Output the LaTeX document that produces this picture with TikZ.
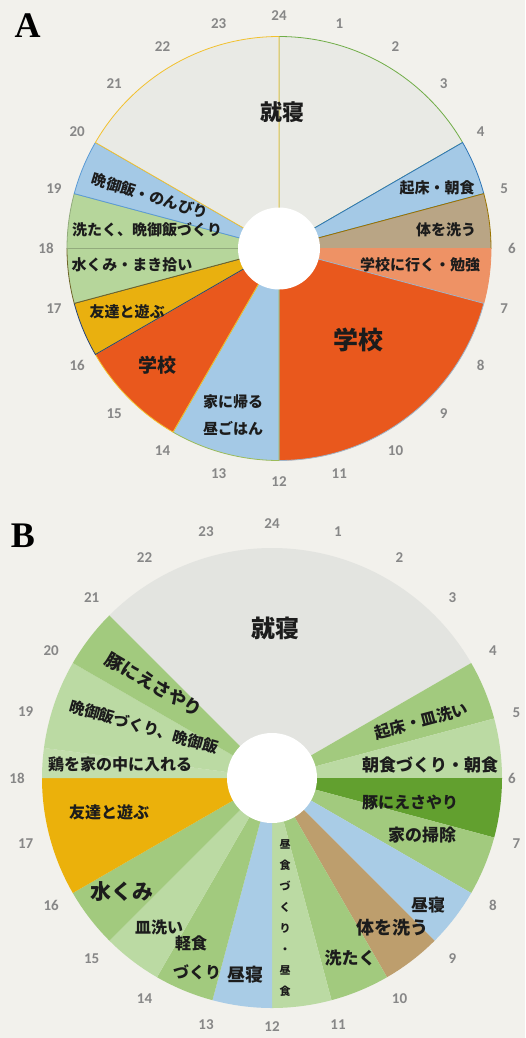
\documentclass[tikz,border=0pt]{standalone}
\usepackage{fontspec}
\newfontfamily\jp{Noto Sans CJK JP}
\newfontfamily\numf{Carlito}
\newfontfamily\letf{Liberation Serif}
\usetikzlibrary{calc}
\newcommand{\fs}[1]{\fontsize{#1}{#1}\selectfont}
\newcommand{\wedgeseg}[5]{%
  \path[#5] (#1) -- ($(#1)+({15*(#2)-90}:#4)$) arc[start angle={15*(#2)-90}, end angle={15*(#3)-90}, radius=#4] -- cycle;}
\definecolor{bg}{RGB}{242,241,236}
\definecolor{ink}{RGB}{28,28,28}
\definecolor{hrc}{RGB}{135,135,135}
% chart A
\definecolor{sleepA}{RGB}{233,234,229}
\definecolor{blueA}{RGB}{164,201,230}
\definecolor{tanA}{RGB}{185,165,133}
\definecolor{lorA}{RGB}{238,146,101}
\definecolor{orA}{RGB}{233,88,29}
\definecolor{goldA}{RGB}{233,176,15}
\definecolor{gA}{RGB}{182,214,155}
\definecolor{olYel}{RGB}{242,193,46}
\definecolor{olGrn}{RGB}{112,173,71}
\definecolor{olBlu}{RGB}{46,117,182}
\definecolor{olOlv}{RGB}{153,115,0}
\definecolor{olGry}{RGB}{160,180,200}
\definecolor{olLgr}{RGB}{155,187,89}
\definecolor{olNav}{RGB}{38,68,120}
\definecolor{olBrn}{RGB}{110,100,40}
\definecolor{olLbl}{RGB}{91,155,213}
% chart B
\definecolor{sleepB}{RGB}{227,228,224}
\definecolor{gB}{RGB}{162,202,126}
\definecolor{gBl}{RGB}{187,218,163}
\definecolor{gBx}{RGB}{194,222,172}
\definecolor{gBd}{RGB}{98,160,47}
\definecolor{blueB}{RGB}{169,204,230}
\definecolor{tanB}{RGB}{189,158,109}
\definecolor{goldB}{RGB}{235,177,11}
\tikzset{
  jt/.style={inner sep=0pt, text=ink, font=\jp\bfseries\fs{#1}},
  hr/.style={inner sep=0pt, text=hrc, font=\numf\bfseries\fs{15}},
  ol/.style={line width=0.8pt, line join=round}
}
\begin{document}
\begin{tikzpicture}[x=1pt,y=-1pt]
\fill[bg] (0,0) rectangle (525,1038);
\useasboundingbox (0,0) rectangle (525,1038);
\coordinate (cA) at (279,248.5);
\coordinate (cB) at (272,778);

% ---------------- Chart A ----------------
\wedgeseg{cA}{0}{4}{212}{fill=sleepA, draw=olGrn, ol}
\wedgeseg{cA}{4}{5}{212}{fill=blueA, draw=olBlu, ol}
\wedgeseg{cA}{5}{6}{212}{fill=tanA, draw=olOlv, ol}
\wedgeseg{cA}{6}{7}{212}{fill=lorA, draw=lorA, ol}
\wedgeseg{cA}{7}{12}{212}{fill=orA, draw=olGry, ol}
\wedgeseg{cA}{12}{14}{212}{fill=blueA, draw=olLgr, ol}
\wedgeseg{cA}{14}{16}{212}{fill=orA, draw=olYel, ol}
\wedgeseg{cA}{16}{17}{212}{fill=goldA, draw=olNav, ol}
\wedgeseg{cA}{17}{18}{212}{fill=gA, draw=olBrn, ol}
\wedgeseg{cA}{18}{19}{212}{fill=gA, draw=gA!80!black, ol}
\wedgeseg{cA}{19}{20}{212}{fill=blueA, draw=olLbl, ol}
\wedgeseg{cA}{20}{24}{212}{fill=sleepA, draw=olYel, ol}
\fill[white] (cA) circle[radius=41];

\foreach \h in {1,...,24}
  \node[hr] (A\h) at ($(cA)+({15*\h-90}:233)$) {\h};

\node[inner sep=0pt, font=\letf\bfseries\fs{36}] (labA) at (27.5,26) {A};

\node[jt=22] (a1) at (282,112) {就寝};
\node[jt=15] (a2) at (437,188) {起床・朝食};
\node[jt=15] (a3) at (446,230) {体を洗う};
\node[jt=15] (a4) at (420,265) {学校に行く・勉強};
\node[jt=25] (a5) at (358,340) {学校};
\node[jt=15] (a6) at (233,402) {家に帰る};
\node[jt=15] (a7) at (233,428) {昼ごはん};
\node[jt=19] (a8) at (157,365) {学校};
\node[jt=15] (a9) at (127,312) {友達と遊ぶ};
\node[jt=15] (a10) at (132,265) {水くみ・まき拾い};
\node[jt=15] (a11) at (147,230) {洗たく、晩御飯づくり};
\node[jt=15, rotate=-17] (a12) at (150,196) {晩御飯・のんびり};

% ---------------- Chart B ----------------
\wedgeseg{cB}{0}{4}{230}{fill=sleepB}
\wedgeseg{cB}{21}{24}{230}{fill=sleepB}
\wedgeseg{cB}{4}{5}{230}{fill=gB}
\wedgeseg{cB}{5}{6}{230}{fill=gBl}
\wedgeseg{cB}{6}{7}{230}{fill=gBd}
\wedgeseg{cB}{7}{8}{230}{fill=gB}
\wedgeseg{cB}{8}{9}{230}{fill=blueB}
\wedgeseg{cB}{9}{10}{230}{fill=tanB}
\wedgeseg{cB}{10}{11}{230}{fill=gB}
\wedgeseg{cB}{11}{12}{230}{fill=gBl}
\wedgeseg{cB}{12}{13}{230}{fill=blueB}
\wedgeseg{cB}{13}{14}{230}{fill=gB}
\wedgeseg{cB}{14}{15}{230}{fill=gBl}
\wedgeseg{cB}{15}{16}{230}{fill=gB}
\wedgeseg{cB}{16}{18}{230}{fill=goldB}
\wedgeseg{cB}{18}{18.5}{230}{fill=gBx}
\wedgeseg{cB}{18.5}{20}{230}{fill=gBl}
\wedgeseg{cB}{20}{21}{230}{fill=gB}
\fill[white] (cB) circle[radius=45];

\foreach \h/\r in {1/255,2/255,3/255,4/255,5/253,6/240,7/253,8/255,9/255,10/255,11/255,12/249,
                   13/255,14/255,15/255,16/255,17/255,18/255,19/255,20/255,21/255,22/255,23/255,24/254}
  \node[hr] (B\h) at ($(cB)+({15*\h-90}:\r)$) {\h};

\node[inner sep=0pt, font=\letf\bfseries\fs{36}] (labB) at (23,536) {B};

\node[jt=24] (b1) at (275,628) {就寝};
\node[jt=16, rotate=15] (b2) at (421,721) {起床・皿洗い};
\node[jt=17] (b3) at (430,765) {朝食づくり・朝食};
\node[jt=16] (b4) at (410,802) {豚にえさやり};
\node[jt=17] (b5) at (422,835) {家の掃除};
\node[jt=17] (b6) at (428,905) {昼寝};
\node[jt=18] (b7) at (392,928) {体を洗う};
\node[jt=17] (b8) at (350,958) {洗たく};
\node[jt=11, align=center, font=\jp\bfseries\fontsize{11}{21}\selectfont] (b9) at (285,918) {昼\\食\\づ\\く\\り\\・\\昼\\食};
\node[jt=18] (b10) at (245,975) {昼寝};
\node[jt=16] (b11) at (197,972) {づくり};
\node[jt=16] (b12) at (191,943) {軽食};
\node[jt=16] (b13) at (159,927) {皿洗い};
\node[jt=21] (b14) at (122,892) {水くみ};
\node[jt=16] (b15) at (109,812) {友達と遊ぶ};
\node[jt=16] (b16) at (120,764) {鶏を家の中に入れる};
\node[jt=15.5, rotate=-16] (b17) at (144,727) {晩御飯づくり、晩御飯};
\node[jt=18, rotate=-30] (b18) at (154,685) {豚にえさやり};
\end{tikzpicture}
\end{document}
